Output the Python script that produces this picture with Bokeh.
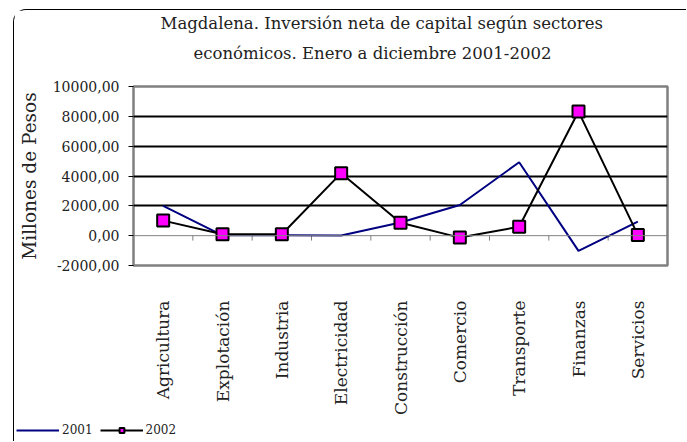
from math import pi
from bokeh.plotting import figure
from bokeh.models import (Range1d, FactorRange, FixedTicker, Span, Legend, LegendItem, Title)
from bokeh.embed import file_html
from bokeh.resources import INLINE

categories = ["Agricultura", "Explotación", "Industria", "Electricidad", "Construcción",
              "Comercio", "Transporte", "Finanzas", "Servicios"]
v2001 = [2000, 20, 30, 10, 880, 2060, 4920, -1020, 940]
v2002 = [1010, 95, 95, 4190, 860, -130, 600, 8320, 50]
y_ticks = [-2000, 0, 2000, 4000, 6000, 8000, 10000]
y_tick_labels = ["-2000,00", "0,00", "2000,00", "4000,00", "6000,00", "8000,00", "10000,00"]
grid_values = [2000, 4000, 6000, 8000]
series_names = ["2001", "2002"]

FONT = "DejaVu Serif"
TXT = "#222222"
C2001 = "#000080"
C2002 = "black"
MARK = "#FF00FF"

p = figure(width=673, height=432, output_backend="svg", toolbar_location=None,
           x_range=FactorRange(factors=categories, range_padding=0),
           y_range=Range1d(-2000, 10000),
           min_border_left=119, min_border_right=20, min_border_top=76, min_border_bottom=177)
p.styles = {"margin-left": "13px", "margin-top": "9px",
            "border-top": "1px solid black", "border-left": "1px solid black",
            "border-top-left-radius": "13px"}

# titles: outermost is p.title; layouts added first sit nearest the frame
p.title = Title(text="Magdalena. Inversión neta de capital según sectores", align="left",
                text_font=FONT, text_font_size="16.5px", text_font_style="normal",
                text_color=TXT, offset=27, standoff=0)
p.add_layout(Title(text=" ", text_font_size="1px", standoff=12), "above")
p.add_layout(Title(text="económicos.  Enero a diciembre  2001-2002", align="left",
                   text_font=FONT, text_font_size="16.5px", text_font_style="normal",
                   text_color=TXT, offset=60, standoff=18), "above")

p.outline_line_color = "#808080"
p.outline_line_width = 2.5

p.xgrid.grid_line_color = None
p.ygrid.ticker = FixedTicker(ticks=grid_values)
p.ygrid.grid_line_color = "black"
p.ygrid.grid_line_width = 2

# y axis
p.yaxis.ticker = FixedTicker(ticks=y_ticks)
p.yaxis.major_label_overrides = dict(zip(y_ticks, y_tick_labels))
p.yaxis.axis_line_color = None
p.yaxis.major_tick_out = 5
p.yaxis.major_tick_in = 0
p.yaxis.minor_tick_line_color = None
p.yaxis.major_label_standoff = 9
p.yaxis.major_label_text_font = FONT
p.yaxis.major_label_text_font_size = "14px"
p.yaxis.major_label_text_color = TXT
p.yaxis.axis_label = "Millones de Pesos"
p.yaxis.axis_label_text_font = FONT
p.yaxis.axis_label_text_font_size = "18.5px"
p.yaxis.axis_label_text_font_style = "normal"
p.yaxis.axis_label_text_color = TXT
p.yaxis.axis_label_standoff = 10

# x axis
p.xaxis.axis_line_color = None
p.xaxis.major_tick_line_color = None
p.xaxis.major_tick_out = 0
p.xaxis.major_label_orientation = pi / 2
p.xaxis.major_label_standoff = 35
p.xaxis.major_label_text_font = FONT
p.xaxis.major_label_text_font_size = "17px"
p.xaxis.major_label_text_color = TXT

# zero line with category-boundary ticks
p.add_layout(Span(location=0, dimension="width", line_color="#808080", line_width=1))
bounds = list(range(1, len(categories) + 1))
p.segment(x0=bounds, x1=bounds, y0=[0] * len(bounds), y1=[-330] * len(bounds),
          line_color="#808080", line_width=1)

p.line(categories, v2001, line_color=C2001, line_width=2)
p.line(categories, v2002, line_color=C2002, line_width=2)
p.scatter(categories, v2002, marker="square", size=12, fill_color=MARK,
          line_color="black", line_width=2)

# legend strip at the bottom-left (series drawn off-range, only legend glyphs show)
lf = figure(width=300, height=22, output_backend="svg", toolbar_location=None,
            x_range=FactorRange(factors=categories, range_padding=0),
            y_range=Range1d(100000, 100001), min_border=0)
lf.styles = {"position": "absolute", "left": "14px", "top": "420px"}
lf.axis.visible = False
lf.grid.visible = False
lf.outline_line_color = None
lf.background_fill_alpha = 0
lf.border_fill_alpha = 0
l1 = lf.line(categories, v2001, line_color=C2001, line_width=2)
l2 = lf.line(categories, v2002, line_color=C2002, line_width=2)
l2m = lf.scatter(categories, v2002, marker="square", size=10, fill_color=MARK,
                 line_color="black", line_width=2)
legend = Legend(items=[LegendItem(label=series_names[0], renderers=[l1]),
                       LegendItem(label=series_names[1], renderers=[l2, l2m])],
                orientation="horizontal", location=(2, 5),
                glyph_width=43, glyph_height=12, label_height=12, label_width=30,
                label_standoff=3, spacing=7, padding=0, margin=0,
                border_line_color=None, background_fill_alpha=0,
                label_text_font=FONT, label_text_font_size="12px", label_text_color=TXT)
lf.add_layout(legend, "center")

open("out.html", "w").write(file_html([p, lf], INLINE))
